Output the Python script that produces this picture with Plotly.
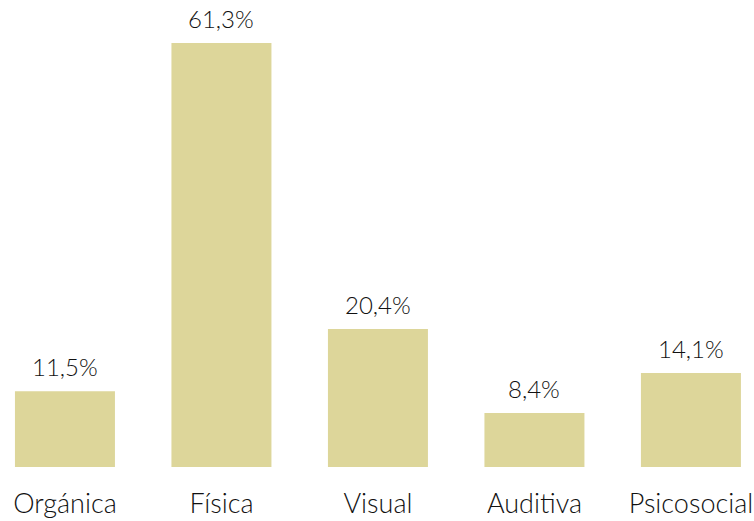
import plotly.graph_objects as go

categorias = ["Orgánica", "Física", "Visual", "Auditiva", "Psicosocial"]
porcentajes = [11.5, 61.3, 20.4, 8.4, 14.1]
etiquetas = ["11,5%", "61,3%", "20,4%", "8,4%", "14,1%"]

color_barra = "#DDD69A"
fuente = "Lato"

fig = go.Figure()
fig.add_trace(go.Bar(
    x=list(range(len(categorias))), y=porcentajes,
    marker=dict(color=color_barra, line=dict(width=0)),
    hoverinfo="skip"
))

# etiquetas de valor encima de cada barra
for i, (v, t) in enumerate(zip(porcentajes, etiquetas)):
    fig.add_annotation(x=i, y=v, text=t, showarrow=False,
                       yanchor="bottom", yshift=8,
                       font=dict(family=fuente, size=24, color="#111111", weight=300))

fig.update_layout(
    width=754, height=521,
    margin=dict(l=0, r=0, t=0, b=54),
    paper_bgcolor="white", plot_bgcolor="white",
    bargap=0.361,
    showlegend=False,
    xaxis=dict(range=[-0.415, 4.403], tickvals=list(range(len(categorias))),
               ticktext=categorias, showgrid=False, zeroline=False,
               showline=False, ticks="", ticklabelstandoff=18,
               tickfont=dict(family=fuente, size=27, color="#111111", weight=300)),
    yaxis=dict(range=[0.67, 67.44], visible=False),
)

fig.write_html("out.html", config={"displayModeBar": False},
               post_script="document.body.style.margin='0px';")
